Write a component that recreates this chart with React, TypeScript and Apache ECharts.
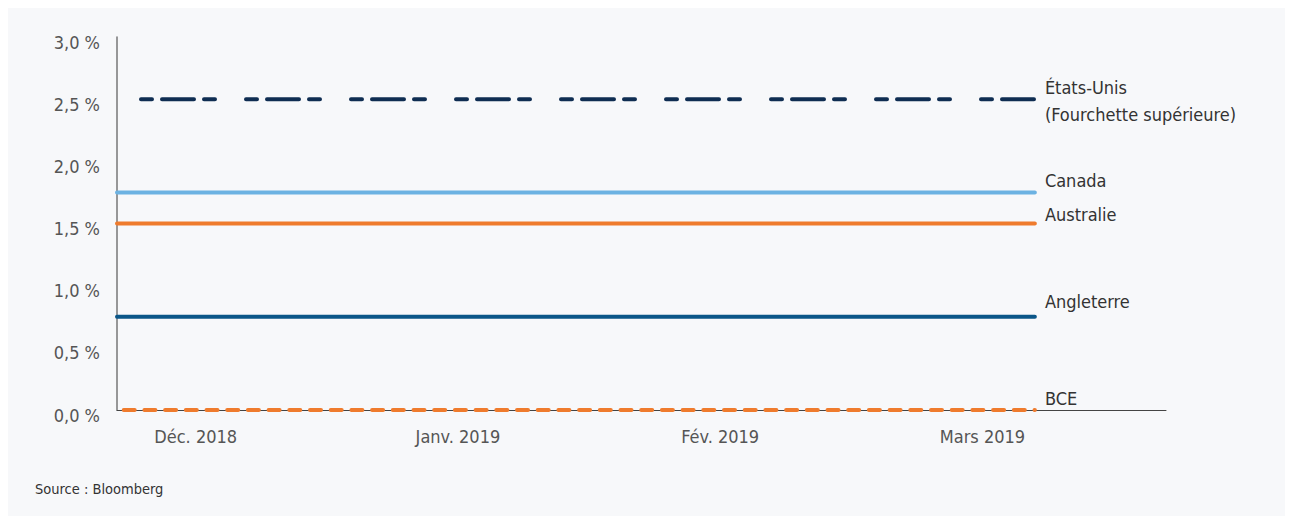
import React, { useEffect, useRef } from "react";
import * as echarts from "echarts";

const monthLabels = ["Déc. 2018", "Janv. 2019", "Fév. 2019", "Mars 2019"];
const monthSlots = [3, 13, 23, 33];
const slotCount = 41;
const pointSlots = [0, 15, 25, 35];
const yTicks = [0, 0.5, 1, 1.5, 2, 2.5, 3];

const seriesNames = ["États-Unis\n(Fourchette supérieure)", "Canada", "Australie", "Angleterre", "BCE"];
const usUpper = [2.5, 2.5, 2.5, 2.5];
const canada = [1.75, 1.75, 1.75, 1.75];
const australia = [1.5, 1.5, 1.5, 1.5];
const england = [0.75, 0.75, 0.75, 0.75];
const ecb = [0, 0, 0, 0];

const FONT = "'Liberation Sans Narrow', 'DejaVu Sans Condensed', 'Noto Sans', sans-serif";

function buildData(values: number[]) {
  const arr: (number | null)[] = Array.from({ length: slotCount }, () => null);
  pointSlots.forEach((s, i) => {
    arr[s] = values[i];
  });
  return arr;
}

const categories = Array.from({ length: slotCount }, (_, i) => {
  const k = monthSlots.indexOf(i);
  return k >= 0 ? monthLabels[k] : "slot" + i;
});

export default function App() {
  const ref = useRef<HTMLDivElement>(null);
  useEffect(() => {
    if (!ref.current) return;
    const chart = echarts.init(ref.current, null, { renderer: "svg" });
    const mk = (
      name: string,
      values: number[],
      color: string,
      dy: number,
      dash: number[] | "solid",
      dashOffset = 0
    ) => ({
      type: "line",
      name,
      data: buildData(values),
      connectNulls: true,
      showSymbol: false,
      symbol: "none",
      silent: true,
      lineStyle: {
        color,
        width: 4,
        type: dash,
        dashOffset,
        cap: "round",
      },
      endLabel: {
        show: true,
        formatter: () => name,
        distance: 10,
        offset: [0, dy],
        color: "#333",
        fontSize: 18,
        fontFamily: FONT,
        lineHeight: 27,
        align: "left",
      },
      z: 3,
    });
    chart.setOption({
      animation: false,
      backgroundColor: "#f7f8fa",
      textStyle: { fontFamily: FONT },
      grid: { left: 109, right: 119, top: 29, bottom: 106, containLabel: false },
      xAxis: {
        type: "category",
        data: categories,
        boundaryGap: false,
        axisLine: { show: true, lineStyle: { color: "#444", width: 1 } },
        axisTick: { show: false },
        splitLine: { show: false },
        axisLabel: {
          interval: (index: number) => monthSlots.indexOf(index) >= 0,
          color: "#555",
          fontSize: 18,
          fontFamily: FONT,
          margin: 17,
        },
      },
      yAxis: {
        type: "value",
        min: yTicks[0],
        max: yTicks[yTicks.length - 1],
        interval: yTicks[1] - yTicks[0],
        axisLine: { show: true, lineStyle: { color: "#777", width: 1.5 } },
        axisTick: { show: false },
        splitLine: { show: false },
        axisLabel: {
          formatter: (v: number) => v.toFixed(1).replace(".", ",") + " %",
          color: "#555",
          fontSize: 18,
          fontFamily: FONT,
          margin: 17,
          verticalAlign: "top",
          lineHeight: 10,
        },
      },
      graphic: [
        {
          type: "text",
          left: 27,
          top: 473,
          style: {
            text: "Source : Bloomberg",
            fill: "#333",
            font: `14.5px ${FONT}`,
          },
        },
      ],
      series: [
        mk(seriesNames[0], usUpper, "#0f2d52", 2, [11, 10, 32, 10, 11, 31], 81),
        mk(seriesNames[1], canada, "#6cb2e2", -12, "solid"),
        mk(seriesNames[2], australia, "#ef7b2d", -9, "solid"),
        mk(seriesNames[3], england, "#0b5688", -15, "solid"),
        mk(seriesNames[4], ecb, "#ef7b2d", -12, [11, 9.7], 13.7),
      ],
    });
    return () => chart.dispose();
  }, []);
  return <div ref={ref} style={{ width: 1277, height: 508 }} />;
}
